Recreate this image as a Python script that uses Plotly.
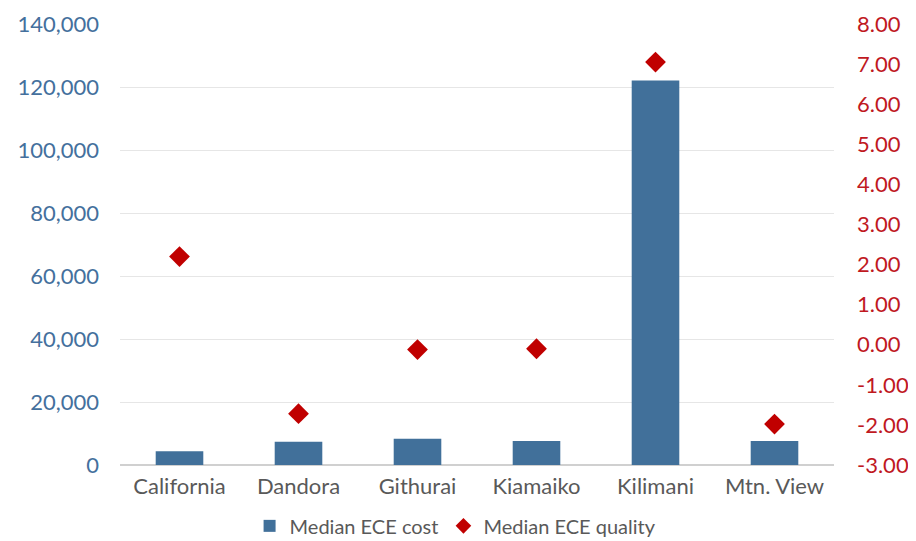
import plotly.graph_objects as go

categories = ["California", "Dandora", "Githurai", "Kiamaiko", "Kilimani", "Mtn. View"]
cost = [4400, 7400, 8300, 7600, 122100, 7600]
quality = [2.2, -1.72, -0.12, -0.1, 7.05, -1.98]
left_ticks = [0, 20000, 40000, 60000, 80000, 100000, 120000, 140000]
right_ticks = [-3, -2, -1, 0, 1, 2, 3, 4, 5, 6, 7, 8]
right_labels = [f"{v:.2f}" for v in right_ticks]

FONT = "Lato"
fig = go.Figure()
fig.add_trace(go.Bar(x=categories, y=cost, name="Median ECE cost",
                     marker=dict(color="#41709A", line=dict(width=0)), yaxis="y"))
fig.add_trace(go.Scatter(x=categories, y=quality, name="Median ECE quality", mode="markers",
                         marker=dict(symbol="diamond", size=16, color="#C00000"), yaxis="y2"))

# page body has an 8px margin, so the figure is sized to fit the 916x541 window
fig.update_layout(
    width=908, height=533,
    margin=dict(l=112, r=82, t=16, b=76, autoexpand=False),
    plot_bgcolor="white", paper_bgcolor="white",
    bargap=0.6,
    font=dict(family=FONT, color="#595959"),
    xaxis=dict(showgrid=False, showline=False, ticks="", automargin=False,
               tickfont=dict(size=22, color="#595959"), ticklabelstandoff=6),
    yaxis=dict(range=[0, 140000], tickvals=left_ticks, tickformat=",", showgrid=True,
               gridcolor="#E6E6E6", gridwidth=1, zeroline=True, zerolinecolor="#D0D0D0",
               zerolinewidth=1.5, tickfont=dict(size=22, color="#44709D"), ticks="",
               ticklabelstandoff=20, automargin=False),
    yaxis2=dict(range=[-3, 8], overlaying="y", side="right", tickvals=right_ticks,
                ticktext=right_labels, showgrid=False, zeroline=False, automargin=False,
                tickfont=dict(size=22, color="#C0191F"), ticks="", ticklabelstandoff=22),
    legend=dict(orientation="h", x=0.47, xanchor="center", y=-0.138, yanchor="middle",
                font=dict(size=20, color="#595959"), itemsizing="constant"),
)
fig.write_html("out.html")
